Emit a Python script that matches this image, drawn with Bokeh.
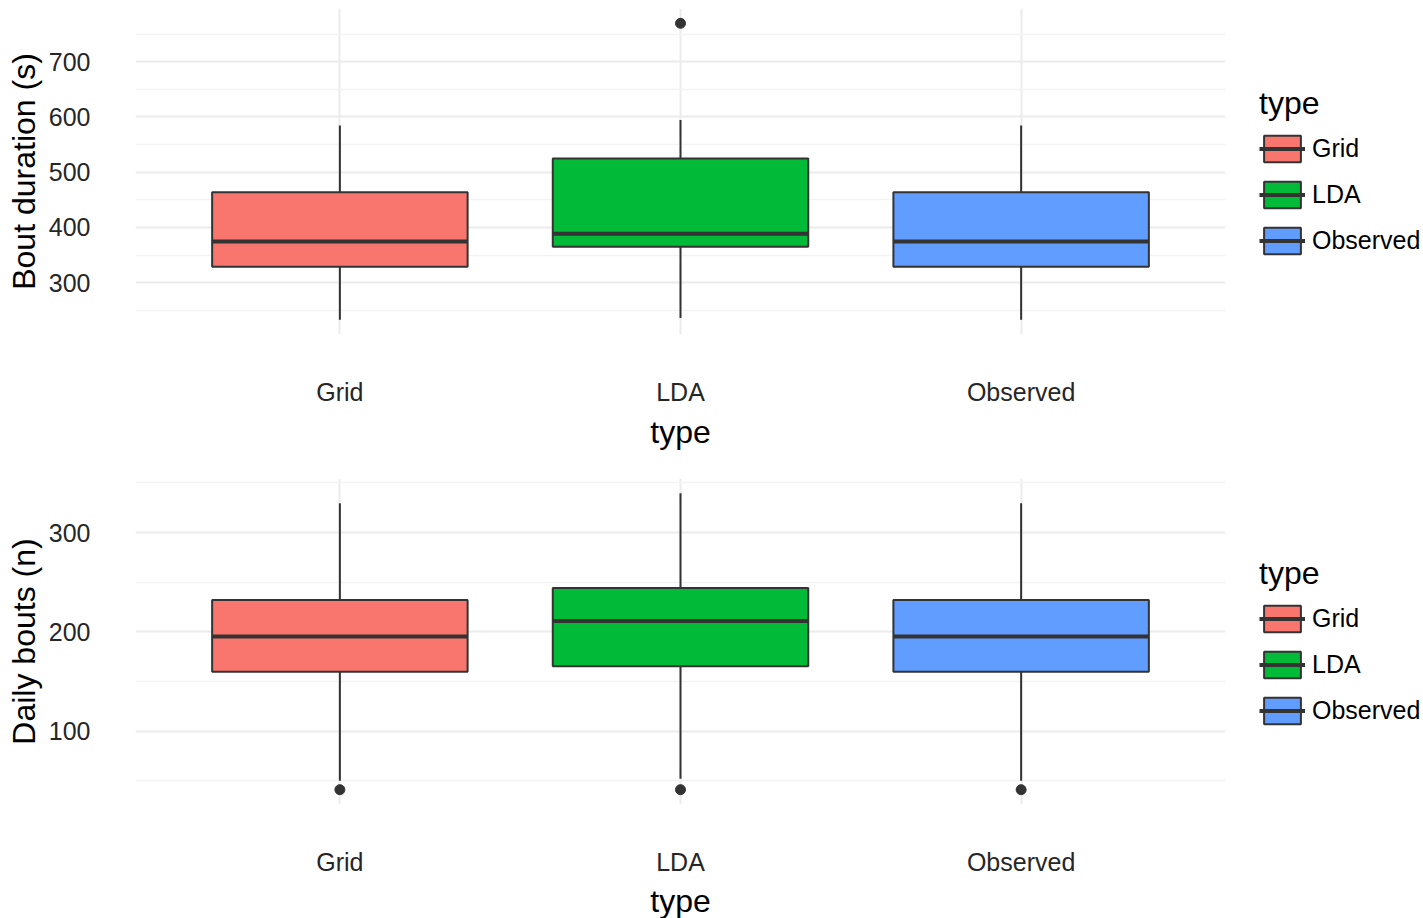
from bokeh.plotting import figure
from bokeh.models import (FactorRange, Range1d, FixedTicker, ColumnDataSource,
                          Legend, LegendItem)
from bokeh.transform import dodge
from bokeh.layouts import column
from bokeh.embed import file_html
from bokeh.resources import INLINE

# ---------------- data ----------------
types = ["Grid", "LDA", "Observed"]
fills = ["#F8766D", "#00BA38", "#619CFF"]

# Bout duration (s)
dur_low = [233.0, 236.0, 233.0]
dur_q1 = [328.6, 364.9, 328.6]
dur_med = [374.5, 388.4, 374.5]
dur_q3 = [463.8, 524.8, 463.8]
dur_high = [584.6, 594.2, 584.6]
dur_out_type = ["LDA"]
dur_out_val = [769.4]
dur_ticks = [300, 400, 500, 600, 700]
dur_minor = [250, 350, 450, 550, 650, 750]

# Daily bouts (n)
bouts_low = [50.0, 52.0, 50.0]
bouts_q1 = [159.7, 165.4, 159.7]
bouts_med = [195.3, 211.0, 195.3]
bouts_q3 = [232.0, 244.3, 232.0]
bouts_high = [329.5, 339.6, 329.5]
bouts_out_type = ["Grid", "LDA", "Observed"]
bouts_out_val = [41.0, 41.0, 41.0]
bouts_ticks = [100, 200, 300]
bouts_minor = [50, 150, 250, 350]

FONT = "Liberation Sans"
DARK = "#333333"


def make_panel(ylabel, low, q1, med, q3, high, out_t, out_v, ticks, minor,
               border_top, border_bottom, title_standoff):
    lo = min(low + out_v)
    hi = max(high + out_v)
    pad = 0.05 * (hi - lo)
    x_range = FactorRange(factors=types, range_padding=0.1,
                          range_padding_units="absolute")
    p = figure(x_range=x_range, y_range=Range1d(lo - pad, hi + pad),
               frame_width=1090, frame_height=326,
               min_border_left=135, min_border_right=196,
               min_border_top=border_top, min_border_bottom=border_bottom,
               output_backend="svg", toolbar_location=None,
               background_fill_color="white", border_fill_color="white")
    p.outline_line_color = None

    src = ColumnDataSource(dict(type=types, low=low, q1=q1, med=med, q3=q3,
                                high=high, fill=fills))
    osrc = ColumnDataSource(dict(type=out_t, val=out_v))

    # whiskers
    p.segment(x0="type", y0="low", x1="type", y1="q1", source=src,
              line_color=DARK, line_width=2)
    p.segment(x0="type", y0="q3", x1="type", y1="high", source=src,
              line_color=DARK, line_width=2)
    # boxes
    box = p.vbar(x="type", width=0.75, bottom="q1", top="q3", source=src,
                 fill_color="fill", line_color=DARK, line_width=2)
    # medians
    med_r = p.segment(x0=dodge("type", -0.375, range=x_range), y0="med",
                      x1=dodge("type", 0.375, range=x_range), y1="med",
                      source=src, line_color=DARK, line_width=4)
    # outliers
    p.scatter(x="type", y="val", source=osrc, size=10, color=DARK)

    # grid
    p.xgrid.grid_line_color = "#EBEBEB"
    p.xgrid.grid_line_width = 2
    p.ygrid.ticker = FixedTicker(ticks=ticks, minor_ticks=minor)
    p.ygrid.grid_line_color = "#EBEBEB"
    p.ygrid.grid_line_width = 2
    p.ygrid.minor_grid_line_color = "#F3F3F3"
    p.ygrid.minor_grid_line_width = 1.5

    # axes
    p.yaxis.ticker = FixedTicker(ticks=ticks, minor_ticks=minor)
    for ax in (p.xaxis[0], p.yaxis[0]):
        ax.axis_line_color = None
        ax.major_tick_line_color = None
        ax.minor_tick_line_color = None
        ax.major_tick_out = 0
        ax.major_tick_in = 0
        ax.major_label_text_font = FONT
        ax.major_label_text_font_size = "25px"
        ax.major_label_text_color = "#262626"
        ax.axis_label_text_font = FONT
        ax.axis_label_text_font_size = "32px"
        ax.axis_label_text_font_style = "normal"
        ax.axis_label_text_color = "#000000"
    p.xaxis.axis_label = "type"
    p.xaxis.major_label_standoff = 43
    p.xaxis.axis_label_standoff = title_standoff
    p.yaxis.axis_label = ylabel
    p.yaxis.major_label_standoff = 41
    p.yaxis.axis_label_standoff = 4

    items = [LegendItem(label=t, renderers=[box, med_r], index=i)
             for i, t in enumerate(types)]
    legend = Legend(items=items, title="type", location="center_left",
                    orientation="vertical")
    legend.title_text_font = FONT
    legend.title_text_font_size = "32px"
    legend.title_text_font_style = "normal"
    legend.title_text_color = "#000000"
    legend.title_standoff = 10
    legend.label_text_font = FONT
    legend.label_text_font_size = "25px"
    legend.label_text_color = "#000000"
    legend.glyph_width = 46
    legend.glyph_height = 33
    legend.label_height = 25
    legend.label_standoff = 7
    legend.spacing = 13
    legend.margin = 34
    legend.padding = 0
    legend.border_line_color = None
    legend.background_fill_alpha = 0
    p.add_layout(legend, "right")
    return p


p1 = make_panel("Bout duration (s)", dur_low, dur_q1, dur_med, dur_q3,
                dur_high, dur_out_type, dur_out_val, dur_ticks, dur_minor,
                8, 144, 5)
p2 = make_panel("Daily bouts (n)", bouts_low, bouts_q1, bouts_med, bouts_q3,
                bouts_high, bouts_out_type, bouts_out_val, bouts_ticks,
                bouts_minor, 0, 112, 4)

layout = column(p1, p2, spacing=0)
open("out.html", "w").write(file_html(layout, INLINE))
